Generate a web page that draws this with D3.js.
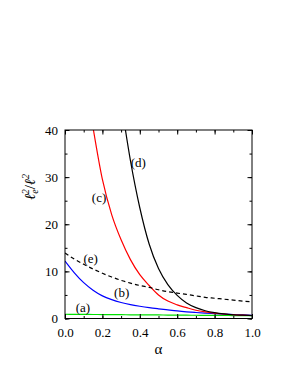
<!DOCTYPE html>
<html><head><meta charset="utf-8">
<script src="https://cdn.jsdelivr.net/npm/d3@7"></script>
<style>body{margin:0;background:#fff}svg{display:block}svg text{font-family:"Liberation Serif","DejaVu Serif",serif !important}</style>
</head><body>
<script>
const alphas = [0,0.05,0.1,0.15,0.2,0.25,0.3,0.35,0.4,0.45,0.5,0.55,0.6,0.65,0.7,0.75,0.8,0.85,0.9,0.95,1.0];
const seriesA = [0.9,0.88,0.87,0.85,0.84,0.82,0.81,0.79,0.78,0.76,0.75,0.73,0.72,0.70,0.69,0.67,0.66,0.64,0.63,0.61,0.6];
const seriesB = [12.2,9.7,7.6,6.0,4.8,4.0,3.4,2.95,2.6,2.3,2.05,1.82,1.6,1.42,1.27,1.14,1.03,0.93,0.84,0.76,0.68];
const seriesC = [null,null,null,40.5,29.5,22,16.7,12.5,9.3,7.0,5.0,3.7,2.9,2.3,1.75,1.4,1.15,0.95,0.8,0.7,0.64];
const seriesD = [null,null,null,null,null,null,46,33.5,23.5,15.8,10.6,7.2,4.9,3.3,2.3,1.65,1.25,0.98,0.8,0.7,0.62];
const seriesE = [13.9,12.6,11.5,10.5,9.6,8.8,8.1,7.5,7.0,6.6,6.1,5.7,5.4,5.1,4.8,4.5,4.3,4.1,3.9,3.7,3.55];
const seriesNames = ["(a)","(b)","(c)","(d)","(e)"];
const labelAlpha = [0.096,0.303,0.182,0.392,0.137];
const labelValue = [2.4,5.6,25.6,33.1,12.7];
const xTicks = [0,0.2,0.4,0.6,0.8,1.0];
const yTicks = [0,10,20,30,40];

const W=291,H=376;
const FONT='"Liberation Serif","DejaVu Serif",serif';
const m={l:65,r:252,t:130,b:318.5};
const svg=d3.select("body").append("svg").attr("width",W).attr("height",H).attr("font-family",FONT);
const x=d3.scaleLinear().domain([0,1]).range([m.l,m.r]);
const y=d3.scaleLinear().domain([0,40]).range([m.b,m.t]);

svg.append("defs").append("clipPath").attr("id","clip").append("rect")
  .attr("x",m.l).attr("y",m.t).attr("width",m.r-m.l).attr("height",m.b-m.t);

const series=[
  {v:seriesA,c:"#00e000",d:null},
  {v:seriesB,c:"#0000ff",d:null},
  {v:seriesC,c:"#ff0000",d:null},
  {v:seriesD,c:"#000000",d:null},
  {v:seriesE,c:"#000000",d:"4,3"}
];
const line=d3.line().defined(d=>d[1]!=null).x(d=>x(d[0])).y(d=>y(d[1])).curve(d3.curveMonotoneX);
const g=svg.append("g").attr("clip-path","url(#clip)");
series.forEach(s=>{
  g.append("path").datum(alphas.map((a,i)=>[a,s.v[i]]))
   .attr("d",line).attr("fill","none").attr("stroke",s.c).attr("stroke-width",1.2)
   .attr("stroke-dasharray",s.d);
});

svg.append("rect").attr("x",m.l).attr("y",m.t).attr("width",m.r-m.l).attr("height",m.b-m.t)
  .attr("fill","none").attr("stroke","#000").attr("stroke-width",1);

const xMinor=d3.range(0,1.0001,0.1);
const yMinor=d3.range(0,40.001,5);
function styleText(a){a.selectAll("text").attr("font-size",13).attr("fill","#000").attr("font-family",FONT);}
function addAxis(axis,tr,vals,size,fmt,pad){
  const ax=axis.tickValues(vals).tickSize(size).tickFormat(fmt||"");
  if(pad) ax.tickPadding(pad);
  svg.append("g").attr("transform",tr).attr("font-family",FONT).call(ax)
    .call(a=>a.select(".domain").remove()).call(styleText);
}
addAxis(d3.axisBottom(x),`translate(0,${m.b})`,xMinor,-2.5);
addAxis(d3.axisBottom(x),`translate(0,${m.b})`,xTicks,-4.5,d3.format(".1f"),9);
addAxis(d3.axisTop(x),`translate(0,${m.t})`,xMinor,-2.5);
addAxis(d3.axisTop(x),`translate(0,${m.t})`,xTicks,-4.5);
addAxis(d3.axisLeft(y),`translate(${m.l},0)`,yMinor,-2.5);
addAxis(d3.axisLeft(y),`translate(${m.l},0)`,yTicks,-4.5,d3.format("d"),7);
addAxis(d3.axisRight(y),`translate(${m.r},0)`,yMinor,-2.5);
addAxis(d3.axisRight(y),`translate(${m.r},0)`,yTicks,-4.5);

seriesNames.forEach((n,i)=>{
  svg.append("text").attr("x",x(labelAlpha[i])).attr("y",y(labelValue[i])).attr("dy","0.35em")
    .attr("text-anchor","middle").attr("font-size",13).text(n);
});

svg.append("text").attr("x",(m.l+m.r)/2).attr("y",354).attr("text-anchor","middle")
  .attr("font-size",15).text("α");
const yl=svg.append("text").attr("transform","translate(35,187) rotate(-90)")
  .attr("text-anchor","middle").attr("font-size",15).attr("font-style","italic");
yl.append("tspan").text("ℓ");
yl.append("tspan").attr("font-size",10).attr("dy",3).text("e");
yl.append("tspan").attr("font-size",10).attr("dy",-9).attr("dx",-5).text("2");
yl.append("tspan").attr("dy",6).attr("font-style","normal").text("/");
yl.append("tspan").text("ℓ");
yl.append("tspan").attr("font-size",10).attr("dy",-6).text("2");
</script>
</body></html>
